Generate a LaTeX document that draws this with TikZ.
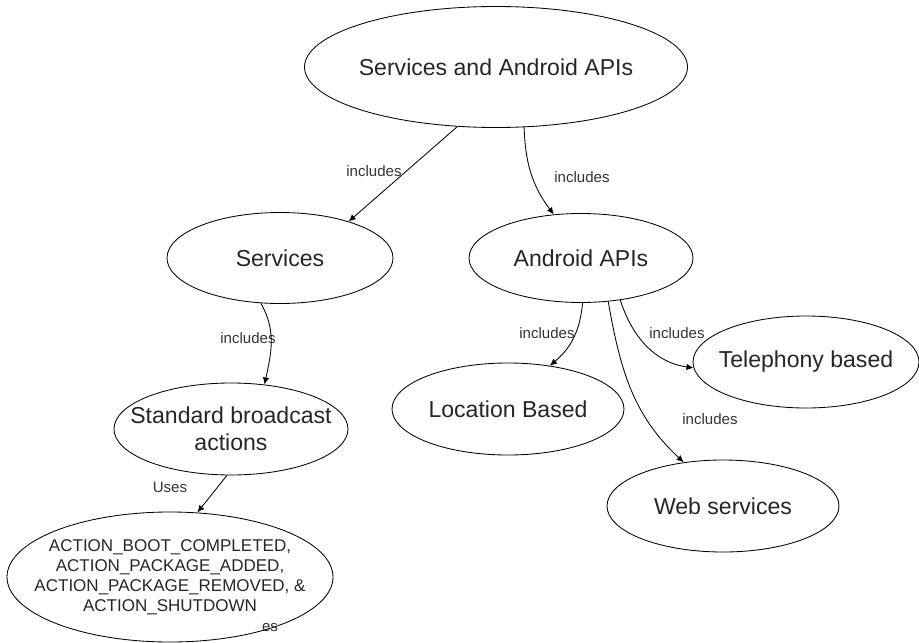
\documentclass[tikz,border=0pt]{standalone}
\usepackage{fontspec}
\setmainfont{Liberation Sans}
\usetikzlibrary{shapes.geometric,arrows.meta}

\begin{document}
\begin{tikzpicture}[x=0.025cm, y=-0.025cm,
        bub/.style 2 args={ellipse, draw, line width=0.6pt, minimum width=#1*0.025cm, minimum height=#2*0.025cm, inner sep=0pt},
        big/.style={font=\fontsize{16.4}{19.2}\selectfont, text=black!85, align=center},
        act/.style={font=\fontsize{12.1}{14.2}\selectfont, text=black!85, align=center},
        lbl/.style={font=\fontsize{10.7}{12}\selectfont, text=black!80, inner sep=0pt},
        conn/.style={line width=0.6pt, -{Latex[length=5pt,width=4.5pt]}}]
        \useasboundingbox (0,0) rectangle (919,643);

        \node[bub={383}{121}] (top) at (496,67) {};
        \node[bub={226}{91}] (svc) at (280,258) {};
        \node[bub={224}{89}] (api) at (581,258) {};
        \node[bub={234}{92}] (sba) at (231,429) {};
        \node[bub={232}{92}] (loc) at (508,409) {};
        \node[bub={226}{92}] (tel) at (806,362) {};
        \node[bub={232}{92}] (web) at (723,506) {};
        \node[bub={326}{130}] (act) at (170,577) {};

        \node[big] (top-t) at (top) {Services and Android APIs};
        \node[big] (svc-t) at (svc) {Services};
        \node[big] (api-t) at (api) {Android APIs};
        \node[big] (sba-t) at (sba) {Standard broadcast\\actions};
        \node[big] (loc-t) at (loc) {Location Based};
        \node[big] (tel-t) at (tel) {Telephony based};
        \node[big] (web-t) at (web) {Web services};
        \node[act] (act-t) at (act) {ACTION\_BOOT\_COMPLETED,\\ACTION\_PACKAGE\_ADDED,\\ACTION\_PACKAGE\_REMOVED, \&\\ACTION\_SHUTDOWN};

        \node[lbl] (l1) at (374,171) {includes};
        \node[lbl] (l2) at (582,177) {includes};
        \node[lbl] (l3) at (248,338) {includes};
        \node[lbl] (l4) at (170,487) {Uses};
        \node[lbl] (l5) at (547,333) {includes};
        \node[lbl] (l6) at (677,333) {includes};
        \node[lbl] (l7) at (710,419) {includes};
        \node[lbl] (l8) at (270,628) {es};

        \draw [conn] (top.237) -- (svc.28);
        \draw [conn] (top.295) to[out=-88, in=127] (api.122);
        \draw [conn] (svc.247) to[out=-60, in=78] (sba.53);
        \draw [conn] (sba.265) -- (act.67);

        \draw [conn] (api.272) to[out=-95, in=40] (loc.46);
        \draw [conn] (api.313) to[out=-72, in=172] (tel.183);
        \draw [conn] (api.302) to[out=-80, in=137] (web.132);
    \end{tikzpicture}
\end{document}
